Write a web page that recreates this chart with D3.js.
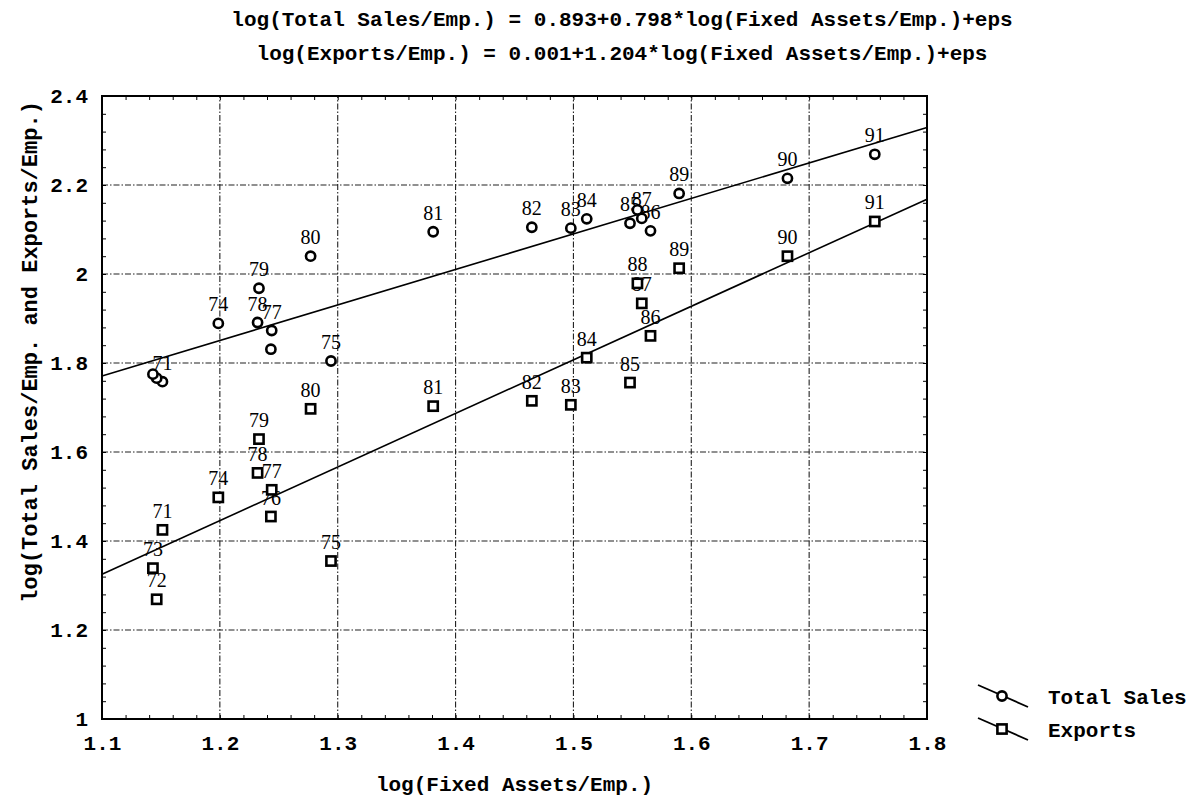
<!DOCTYPE html>
<html>
<head>
<meta charset="utf-8">
<script src="https://cdn.jsdelivr.net/npm/d3@7"></script>
<style>
body { margin: 0; background: #fff; }
text { fill: #000; }
</style>
</head>
<body>
<div id="chart"></div>
<script>
const years = ["71","72","73","74","75","76","77","78","79","80","81","82","83","84","85","86","87","88","89","90","91"];
const fixedAssets = [1.1513,1.1464,1.1432,1.1987,1.2943,1.2433,1.2440,1.2320,1.2332,1.2770,1.3810,1.4647,1.4978,1.5113,1.5480,1.5654,1.5580,1.5543,1.5897,1.6816,1.7557];
const totalSales = [1.758,1.766,1.775,1.889,1.8045,1.831,1.873,1.891,1.968,2.040,2.095,2.105,2.103,2.124,2.114,2.097,2.125,2.144,2.181,2.215,2.269];
const exportsVals = [1.425,1.269,1.339,1.498,1.355,1.455,1.515,1.553,1.629,1.697,1.703,1.715,1.706,1.812,1.756,1.861,1.934,1.979,2.013,2.040,2.118];
// labels hidden under other marks in the original
const salesHidden = ["72","73","76","88"];
const exportsHidden = [];

const xTicks = [1.1,1.2,1.3,1.4,1.5,1.6,1.7,1.8];
const xTickLabels = ["1.1","1.2","1.3","1.4","1.5","1.6","1.7","1.8"];
const yTicks = [1,1.2,1.4,1.6,1.8,2,2.2,2.4];
const yTickLabels = ["1","1.2","1.4","1.6","1.8","2","2.2","2.4"];

// fitted lines: intercept, slope
const salesFit = [0.893, 0.798];
const exportsFit = [0.001, 1.204];

const titleLines = [
    "log(Total Sales/Emp.) = 0.893+0.798*log(Fixed Assets/Emp.)+eps",
    "log(Exports/Emp.) = 0.001+1.204*log(Fixed Assets/Emp.)+eps"
];

const width = 1204,
    height = 799,
    margin = ({top: 96, right: 277, bottom: 80, left: 102});
const mono = "'Liberation Mono', 'DejaVu Sans Mono', monospace";

let svg = d3.select("#chart").append("svg")
    .attr("width", width)
    .attr("height", height);

let x = d3.scaleLinear()
    .domain([1.1, 1.8])
    .range([margin.left, width - margin.right]);

let y = d3.scaleLinear()
    .domain([1, 2.4])
    .range([height - margin.bottom, margin.top]);

// dash-dot grid
svg.append("g")
    .selectAll("line.vg")
    .data(xTicks.slice(1, -1))
    .join("line")
    .attr("x1", d => x(d)).attr("x2", d => x(d))
    .attr("y1", y(1)).attr("y2", y(2.4))
    .attr("stroke", "#222").attr("stroke-width", 1.1)
    .attr("stroke-dasharray", "6,2,1.5,2");

svg.append("g")
    .selectAll("line.hg")
    .data(yTicks.slice(1, -1))
    .join("line")
    .attr("x1", x(1.1)).attr("x2", x(1.8))
    .attr("y1", d => y(d)).attr("y2", d => y(d))
    .attr("stroke", "#222").attr("stroke-width", 1.1)
    .attr("stroke-dasharray", "6,2,1.5,2");

// minor ticks pointing inward on all sides
const xMinor = d3.range(0, 36).map(i => 1.1 + i * 0.02);
const yMinor = d3.range(0, 36).map(i => 1 + i * 0.04);
const minor = g => g.call(a => a.select(".domain").remove()).selectAll("text").remove();

svg.append("g").attr("transform", `translate(0,${y(1)})`)
    .call(d3.axisBottom(x).tickValues(xMinor).tickSize(-4).tickFormat(""))
    .call(minor);
svg.append("g").attr("transform", `translate(0,${y(2.4)})`)
    .call(d3.axisTop(x).tickValues(xMinor).tickSize(-4).tickFormat(""))
    .call(minor);
svg.append("g").attr("transform", `translate(${x(1.1)},0)`)
    .call(d3.axisLeft(y).tickValues(yMinor).tickSize(-4).tickFormat(""))
    .call(minor);
svg.append("g").attr("transform", `translate(${x(1.8)},0)`)
    .call(d3.axisRight(y).tickValues(yMinor).tickSize(-4).tickFormat(""))
    .call(minor);

// frame
svg.append("rect")
    .attr("x", x(1.1)).attr("y", y(2.4))
    .attr("width", x(1.8) - x(1.1))
    .attr("height", y(1) - y(2.4))
    .attr("fill", "none")
    .attr("stroke", "#000")
    .attr("stroke-width", 2);

// tick labels
const xAxis = g => g
    .attr("transform", `translate(0,${y(1)})`)
    .call(d3.axisBottom(x).tickValues(xTicks).tickFormat((d, i) => xTickLabels[i]).tickSize(0).tickPadding(16))
    .call(g => g.select(".domain").remove());

const yAxis = g => g
    .attr("transform", `translate(${x(1.1)},0)`)
    .call(d3.axisLeft(y).tickValues(yTicks).tickFormat((d, i) => yTickLabels[i]).tickSize(0).tickPadding(14))
    .call(g => g.select(".domain").remove());

svg.append("g").call(xAxis);
svg.append("g").call(yAxis);
svg.selectAll(".tick text")
    .attr("font-family", mono)
    .attr("font-size", 21)
    .attr("font-weight", "bold")
    .attr("fill", "#000");

// regression lines
const fitLine = (fit) => d3.line()
    .x(d => x(d))
    .y(d => y(fit[0] + fit[1] * d))([1.1, 1.8]);

svg.append("path").attr("d", fitLine(salesFit))
    .attr("fill", "none").attr("stroke", "#000").attr("stroke-width", 1.6);
svg.append("path").attr("d", fitLine(exportsFit))
    .attr("fill", "none").attr("stroke", "#000").attr("stroke-width", 1.6);

const sales = years.map((yr, i) => ({yr, fa: fixedAssets[i], v: totalSales[i], hide: salesHidden.includes(yr)}));
const exps = years.map((yr, i) => ({yr, fa: fixedAssets[i], v: exportsVals[i], hide: exportsHidden.includes(yr)}));

// year labels
const labelFont = "'Liberation Serif', 'DejaVu Serif', serif";
for (let set of [sales, exps]) {
    svg.append("g")
        .selectAll("text")
        .data(set.filter(d => !d.hide))
        .join("text")
        .attr("x", d => x(d.fa))
        .attr("y", d => y(d.v) - 12)
        .attr("text-anchor", "middle")
        .attr("font-family", labelFont)
        .attr("font-size", 20)
        .text(d => d.yr);
}

// markers
svg.append("g")
    .selectAll("circle")
    .data(sales)
    .join("circle")
    .attr("cx", d => x(d.fa))
    .attr("cy", d => y(d.v))
    .attr("r", 4.6)
    .attr("fill", "#fff")
    .attr("stroke", "#000")
    .attr("stroke-width", 2.6);

svg.append("g")
    .selectAll("rect")
    .data(exps)
    .join("rect")
    .attr("x", d => x(d.fa) - 4.6)
    .attr("y", d => y(d.v) - 4.6)
    .attr("width", 9.2)
    .attr("height", 9.2)
    .attr("fill", "#fff")
    .attr("stroke", "#000")
    .attr("stroke-width", 2.6);

// titles
svg.append("g")
    .selectAll("text")
    .data(titleLines)
    .join("text")
    .attr("x", 622)
    .attr("y", (d, i) => 26 + i * 34)
    .attr("text-anchor", "middle")
    .attr("font-family", mono)
    .attr("font-size", 21)
    .attr("font-weight", "bold")
    .text(d => d);

svg.append("text")
    .attr("x", (x(1.1) + x(1.8)) / 2)
    .attr("y", 791)
    .attr("text-anchor", "middle")
    .attr("font-family", mono)
    .attr("font-size", 21)
    .attr("font-weight", "bold")
    .text("log(Fixed Assets/Emp.)");

svg.append("text")
    .attr("transform", "translate(37,352) rotate(-90)")
    .attr("text-anchor", "middle")
    .attr("font-family", mono)
    .attr("font-size", 22)
    .attr("font-weight", "bold")
    .text("log(Total Sales/Emp. and Exports/Emp.)");

// legend
const legend = [
    {name: "Total Sales", shape: "circle", ly: 696},
    {name: "Exports", shape: "square", ly: 729}
];
let lg = svg.append("g").selectAll("g").data(legend).join("g");
lg.append("line")
    .attr("x1", 978).attr("y1", d => d.ly - 11)
    .attr("x2", 1028).attr("y2", d => d.ly + 11)
    .attr("stroke", "#000").attr("stroke-width", 1.8);
lg.filter(d => d.shape === "circle").append("circle")
    .attr("cx", 1002).attr("cy", d => d.ly).attr("r", 4.6)
    .attr("fill", "#fff").attr("stroke", "#000").attr("stroke-width", 2.6);
lg.filter(d => d.shape === "square").append("rect")
    .attr("x", 1002 - 4.6).attr("y", d => d.ly - 4.6)
    .attr("width", 9.2).attr("height", 9.2)
    .attr("fill", "#fff").attr("stroke", "#000").attr("stroke-width", 2.6);
lg.append("text")
    .attr("x", 1048).attr("y", d => d.ly + 8)
    .attr("font-family", mono)
    .attr("font-size", 21)
    .attr("font-weight", "bold")
    .text(d => d.name);
</script>
</body>
</html>
